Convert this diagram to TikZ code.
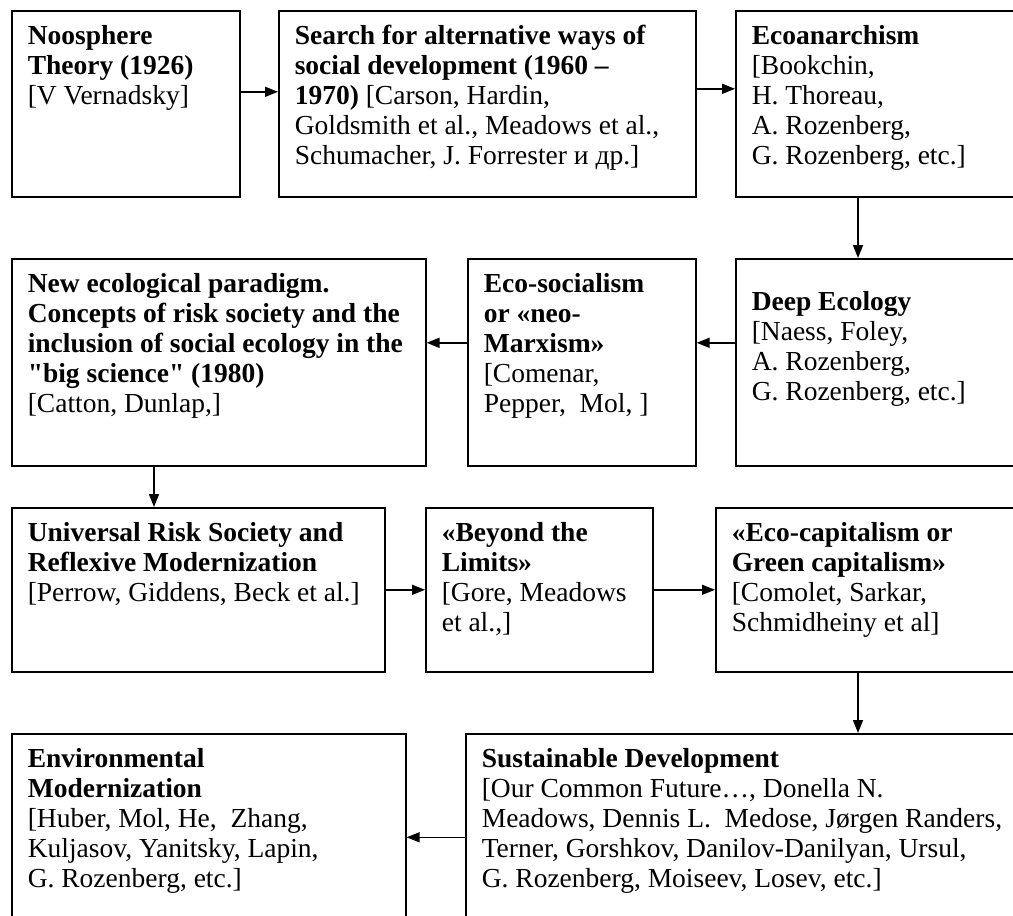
\documentclass[tikz,border=0pt]{standalone}
\usepackage{fontspec}
\setmainfont{Liberation Serif}
\usetikzlibrary{arrows.meta}

\tikzset{
  box/.style={draw, line width=1.6pt, anchor=north west, inner xsep=16pt, inner ysep=13pt,
    font=\fontsize{27.5pt}{30pt}\selectfont},
  link/.style={line width=1.5pt, -{Triangle[length=13pt,width=10pt]}}
}

\begin{document}
\begin{tikzpicture}[x=1pt,y=-1pt]
  \useasboundingbox (0,0) rectangle (1013,916);
  \clip (0,0) rectangle (1013,916);

  % first row
  \node[box] (noosphere) at (11,10) {\parbox[c][160pt][t]{196pt}{\raggedright\strut
    \textbf{Noosphere}\\ \textbf{Theory (1926)}\\ {[}V Vernadsky]}};
  \node[box] (search) at (278,10) {\parbox[c][160pt][t]{385pt}{\raggedright\strut
    \textbf{Search for alternative ways of}\\ \textbf{social development (1960 –}\\
    \textbf{1970)} {[}Carson, Hardin,\\ Goldsmith et al., Meadows et al.,\\
    Schumacher, J. Forrester и др.]}};
  \node[box] (anarchism) at (735,10) {\parbox[c][160pt][t]{263pt}{\raggedright\strut
    \textbf{Ecoanarchism}\\ {[}Bookchin,\\ H. Thoreau,\\ A. Rozenberg,\\ G. Rozenberg, etc.]}};

  % second row
  \node[box] (paradigm) at (11,258) {\parbox[c][181pt][t]{382pt}{\raggedright\strut
    \textbf{New ecological paradigm.}\\ \textbf{Concepts of risk society and the}\\
    \textbf{inclusion of social ecology in the}\\ \textbf{\textquotedbl big science\textquotedbl\ (1980)}\\
    {[}Catton, Dunlap,]}};
  \node[box] (ecosoc) at (467,258) {\parbox[c][181pt][t]{196pt}{\raggedright\strut
    \textbf{Eco-socialism}\\ \textbf{or «neo-}\\ \textbf{Marxism»}\\ {[}Comenar,\\ Pepper,~ Mol, ]}};
  \node[box] (deepeco) at (735,258) {\parbox[c][181pt][t]{263pt}{\raggedright\vspace*{18pt}\strut
    \textbf{Deep Ecology}\\ {[}Naess, Foley,\\ A. Rozenberg,\\ G. Rozenberg, etc.]}};

  % third row
  \node[box] (riskmod) at (11,507) {\parbox[c][138pt][t]{341pt}{\raggedright\strut
    \textbf{Universal Risk Society and}\\ \textbf{Reflexive Modernization}\\
    {[}Perrow, Giddens, Beck et al.]}};
  \node[box] (beyond) at (425,507) {\parbox[c][138pt][t]{195pt}{\raggedright\strut
    \textbf{«Beyond the}\\ \textbf{Limits»}\\ {[}Gore, Meadows\\ et al.,]}};
  \node[box] (greencap) at (715,507) {\parbox[c][138pt][t]{283pt}{\raggedright\strut
    \textbf{«Eco-capitalism or}\\ \textbf{Green capitalism»}\\ {[}Comolet, Sarkar,\\
    Schmidheiny et al]}};

  % fourth row
  \node[box] (envmod) at (11,733) {\parbox[c][181pt][t]{362pt}{\raggedright\strut
    \textbf{Environmental}\\ \textbf{Modernization}\\ {[}Huber, Mol, He,~ Zhang,\\
    Kuljasov, Yanitsky, Lapin,\\ G. Rozenberg, etc.]}};
  \node[box] (sustdev) at (465,733) {\parbox[c][181pt][t]{533pt}{\raggedright\strut
    \textbf{Sustainable Development}\\ {[}Our Common Future…, Donella N.\\
    Meadows, Dennis L.~ Medose, Jørgen Randers,\\ Terner, Gorshkov, Danilov-Danilyan, Ursul,\\
    G. Rozenberg, Moiseev, Losev, etc.]}};

  \coordinate (colL) at (154,0);
  \coordinate (colR) at (858,0);

  \draw[link] ([yshift=12pt]noosphere.east) -- ([yshift=12pt]search.west);
  \draw[link] ([yshift=15pt]search.east) -- ([yshift=15pt]anarchism.west);
  \draw[link] (anarchism.south -| colR) -- (deepeco.north -| colR);
  \draw[link] ([yshift=19.5pt]deepeco.west) -- ([yshift=19.5pt]ecosoc.east);
  \draw[link] ([yshift=19.5pt]ecosoc.west) -- ([yshift=19.5pt]paradigm.east);
  \draw[link] (paradigm.south -| colL) -- (riskmod.north -| colL);
  \draw[link] (riskmod.east) -- (beyond.west);
  \draw[link] (beyond.east) -- (greencap.west);
  \draw[link] (greencap.south -| colR) -- (sustdev.north -| colR);
  \draw[link] (sustdev.west) -- (envmod.east);
\end{tikzpicture}
\end{document}
